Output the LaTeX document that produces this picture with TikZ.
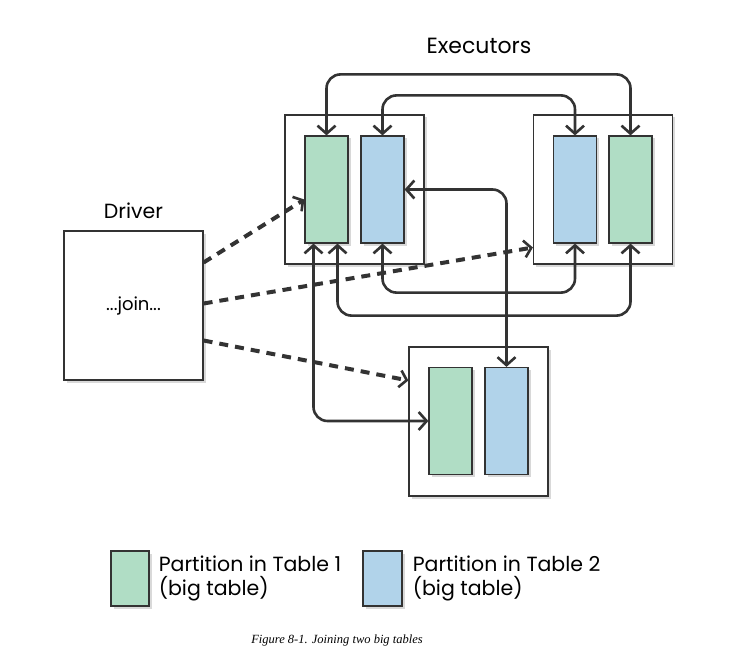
\documentclass[tikz,border=0pt]{standalone}
\usepackage{fontspec}
\setmainfont{Poppins}
\newfontfamily\legendefont{Liberation Serif}
\usetikzlibrary{
	calc,
	arrows.meta,
	positioning,
	shadows
	}
\definecolor{vert}{HTML}{B0DDC5}
\definecolor{bleu}{HTML}{B1D3EA}
\definecolor{trait}{HTML}{333333}
\tikzset{font={\fontsize{20.5pt}{24}\selectfont}}
\tikzstyle{ombre}=[drop shadow={shadow xshift=2.5pt, shadow yshift=-2.5pt, opacity=0.3}]
\tikzstyle{boite-std}=[draw=trait, line width=1.2pt, fill=white, inner sep=0pt, minimum width=139pt, minimum height=149pt, ombre]
\tikzstyle{part-std}=[draw=trait, line width=1.2pt, inner sep=0pt, minimum width=43pt, minimum height=107pt, ombre]
\tikzstyle{part-vert}=[part-std, fill=vert]
\tikzstyle{part-bleu}=[part-std, fill=bleu]
\tikzstyle{fleche-std}=[draw=trait, line width=2.6pt, rounded corners=14pt, {Straight Barb[length=8pt,width=18pt]}-{Straight Barb[length=8pt,width=18pt]}]
\tikzstyle{fleche-pts}=[draw=trait, line width=4pt, dash pattern=on 9pt off 7pt, -{Straight Barb[length=7pt,width=17pt,line width=2.6pt]}]

\begin{document}
\begin{tikzpicture}[x=1pt, y=-1pt]
        \useasboundingbox (0,0) rectangle (741,655);
        % driver
        \node[boite-std] (drv) at (133.5,305.5) {\fontsize{18pt}{20}\selectfont ...join...};
        \node (lbl-drv) at (133.5,211) {Driver};
        % executeurs
        \node (lbl-ex) at (479,46) {\fontsize{22pt}{26}\selectfont Executors};
        \node[boite-std] (ex1) at (354.5,189.5) {};
        \node[boite-std] (ex2) at (603,189.5) {};
        \node[boite-std] (ex3) at (478.5,421.5) {};
        % partitions
        \node[part-vert] (p1-v) at (326.5,189.5) {};
        \node[part-bleu] (p1-b) at (382.5,189.5) {};
        \node[part-bleu] (p2-b) at (575,189.5) {};
        \node[part-vert] (p2-v) at (630.5,189.5) {};
        \node[part-vert] (p3-v) at (450.5,421) {};
        \node[part-bleu] (p3-b) at (506.5,421) {};
        %
        \draw[fleche-std] (p1-v.north) -- ++(0,-61) -| (p2-v.north);
        \draw[fleche-std] (p1-b.north) -- ++(0,-40) -| (p2-b.north);
        \draw[fleche-std] (p1-b.south) -- ++(0,49) -| (p2-b.south);
        \draw[fleche-std] ([xshift=11pt]p1-v.south) -- ++(0,72) -| (p2-v.south);
        \draw[fleche-std] ([xshift=-13pt]p1-v.south) |- (p3-v.west);
        \draw[fleche-std] (p1-b.east) -| (p3-b.north);
        %
        \draw[fleche-pts] ([yshift=43pt]drv.east) -- ([yshift=-10pt]p1-v.west);
        \draw[fleche-pts] ([yshift=2pt]drv.east) -- ([yshift=-58pt]ex2.west);
        \draw[fleche-pts] ([yshift=-35pt]drv.east) -- ([yshift=41pt]ex3.west);
        % legende
        \node[part-vert, minimum width=38pt, minimum height=55pt] (lg1) at (130,578.5) {};
        \node[right=9pt of lg1, inner sep=0pt, align=left] (txt1) {Partition in Table 1\\(big table)};
        \node[part-bleu, minimum width=39pt, minimum height=55pt] (lg2) at (382.5,578.5) {};
        \node[right=10pt of lg2, inner sep=0pt, align=left] (txt2) {Partition in Table 2\\(big table)};
        \node (cap) at (337,640) {\legendefont\itshape\fontsize{12.5pt}{14}\selectfont Figure 8-1. Joining two big tables};
    \end{tikzpicture}
\end{document}
